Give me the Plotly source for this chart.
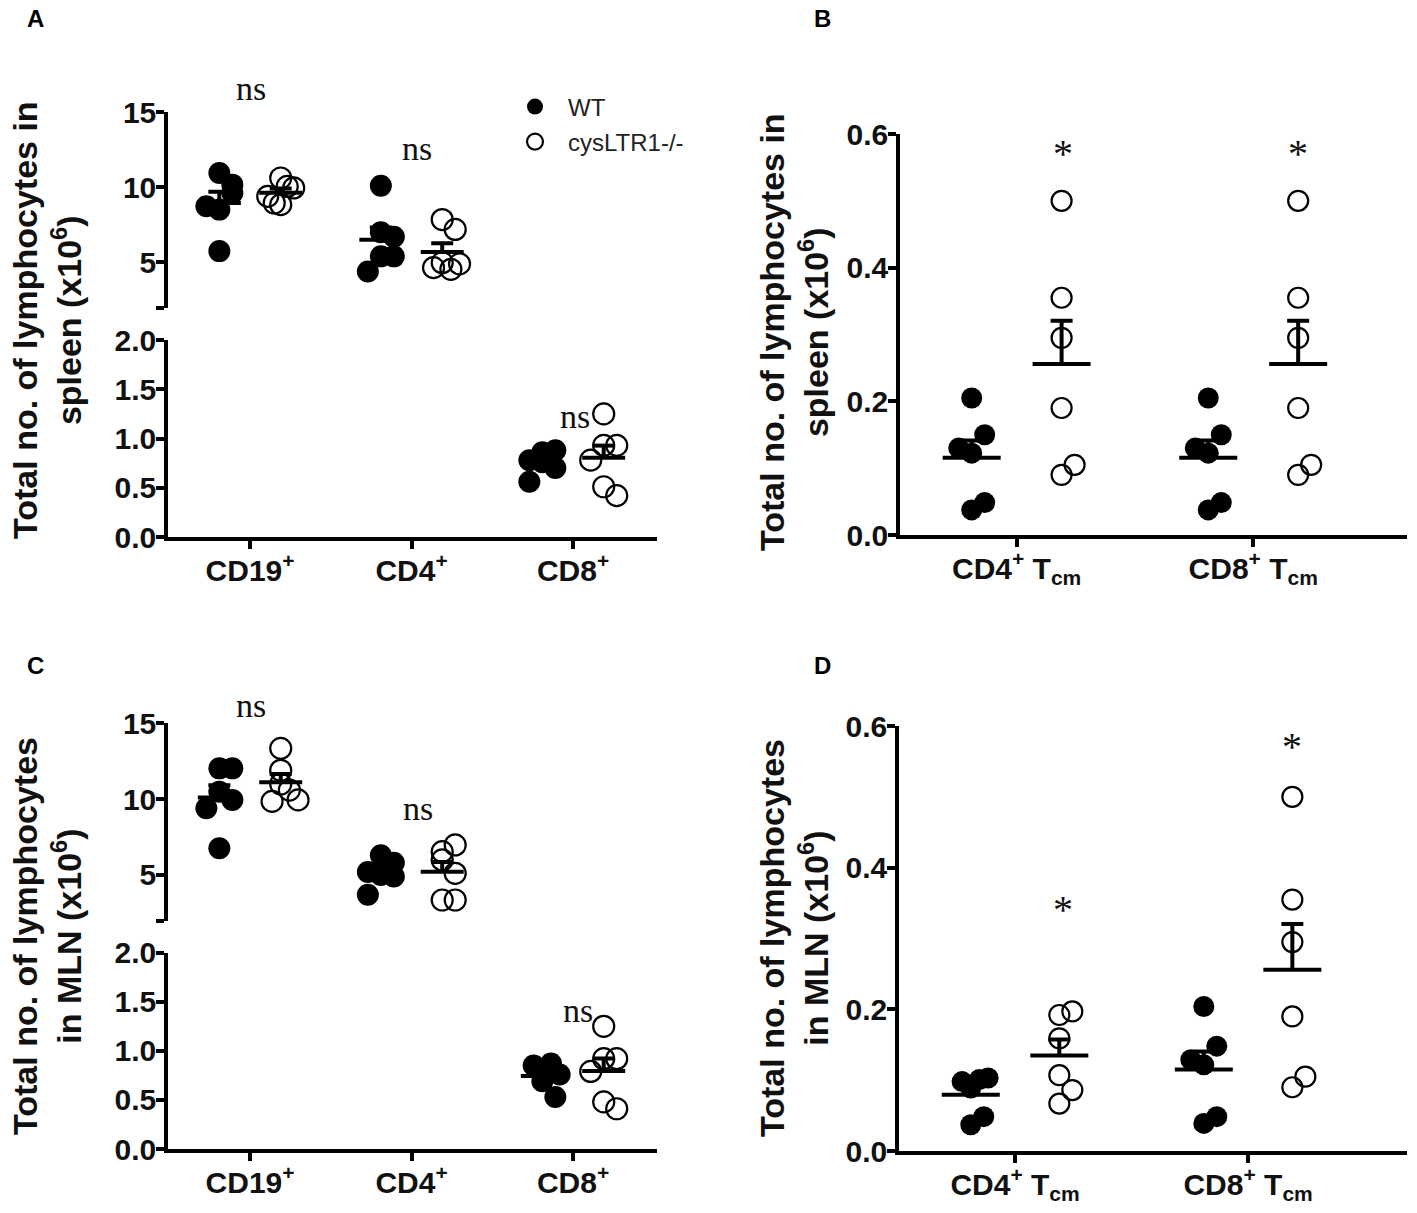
import numpy as np
import plotly.graph_objects as go

W, H = 1417, 1213          # reference picture size
OFF = 8                    # default page body margin
FW, FH = W - 2 * OFF, H - 2 * OFF

# ---------------- data ----------------
cats_main = ["CD19<sup>+</sup>", "CD4<sup>+</sup>", "CD8<sup>+</sup>"]
cats_tcm = ["CD4<sup>+</sup> T<sub>cm</sub>", "CD8<sup>+</sup> T<sub>cm</sub>"]
group_names = ["WT", "cysLTR1-/-"]

# Panel A: spleen (x10^6)
spleen_wt_cd19 = [10.94, 10.17, 8.51, 9.62, 8.73, 5.75]
spleen_ko_cd19 = [10.61, 8.84, 10.05, 8.95, 9.95, 9.39]
spleen_wt_cd4 = [10.1, 7.0, 6.7, 5.4, 5.4, 4.4]
spleen_ko_cd4 = [7.85, 7.19, 4.98, 4.54, 4.65, 4.9]
spleen_wt_cd8 = [0.76, 0.86, 0.88, 0.70, 0.56, 0.78]
spleen_ko_cd8 = [1.25, 0.93, 0.93, 0.78, 0.51, 0.42]

# Panel B: spleen Tcm (x10^6)
spleen_wt_cd4tcm = [0.205, 0.1225, 0.15, 0.13, 0.0375, 0.0485]
spleen_ko_cd4tcm = [0.5, 0.355, 0.295, 0.19, 0.09, 0.105]
spleen_wt_cd8tcm = [0.205, 0.1225, 0.15, 0.13, 0.0375, 0.0485]
spleen_ko_cd8tcm = [0.5, 0.355, 0.295, 0.19, 0.09, 0.105]

# Panel C: MLN (x10^6)
mln_wt_cd19 = [12.03, 12.03, 10.49, 9.95, 9.40, 6.76]
mln_ko_cd19 = [13.35, 11.9, 11.0, 10.6, 9.85, 9.95]
mln_wt_cd4 = [6.3, 5.8, 5.0, 4.9, 3.7, 5.2]
mln_ko_cd4 = [6.54, 6.98, 5.99, 5.11, 3.35, 3.35]
mln_wt_cd8 = [0.77, 0.87, 0.85, 0.69, 0.53, 0.76]
mln_ko_cd8 = [1.25, 0.92, 0.92, 0.79, 0.48, 0.41]

# Panel D: MLN Tcm (x10^6)
mln_wt_cd4tcm = [0.089, 0.101, 0.098, 0.103, 0.037, 0.0485]
mln_ko_cd4tcm = [0.067, 0.086, 0.107, 0.159, 0.192, 0.197]
mln_wt_cd8tcm = [0.204, 0.1216, 0.148, 0.129, 0.039, 0.0485]
mln_ko_cd8tcm = [0.5, 0.355, 0.295, 0.19, 0.09, 0.105]

# significance labels
sig_A = ["ns", "ns", "ns"]
sig_B = ["*", "*"]
sig_C = ["ns", "ns", "ns"]
sig_D = ["*", "*"]


# ---------------- layout helpers ----------------
def fx(px):
    return (px - OFF) / FW


def fy(py):
    return 1 - (py - OFF) / FH


FONT = "Liberation Sans, Arial, sans-serif"
SERIF = "Liberation Serif, Times New Roman, serif"

fig = go.Figure()

# name: (x_left_px, x_right_px, xrange, anchor, categories)
XAX = {
    "x": (168, 657, [-0.508, 2.52], "y", cats_main),
    "x2": (900, 1407, [-0.493, 1.650], "y3", cats_tcm),
    "x3": (168, 657, [-0.508, 2.52], "y4", cats_main),
    "x4": (899, 1407, [-0.498, 1.682], "y6", cats_tcm),
}
# name: (bottom_px, top_px, range, tickvals, ticktext)
YAX = {
    "y": (537, 340, [0, 2], [0, 0.5, 1, 1.5, 2], ["0.0", "0.5", "1.0", "1.5", "2.0"]),
    "y2": (307.5, 112, [2, 15], [2, 5, 10, 15], ["", "5", "10", "15"]),
    "y3": (535, 134, [0, 0.6], [0, 0.2, 0.4, 0.6], ["0.0", "0.2", "0.4", "0.6"]),
    "y4": (1149, 952.7, [0, 2], [0, 0.5, 1, 1.5, 2], ["0.0", "0.5", "1.0", "1.5", "2.0"]),
    "y5": (920.5, 723.3, [2, 15], [2, 5, 10, 15], ["", "5", "10", "15"]),
    "y6": (1151, 726, [0, 0.6], [0, 0.2, 0.4, 0.6], ["0.0", "0.2", "0.4", "0.6"]),
}


def px_per_cat(xname):
    l, r, rng, _, _ = XAX[xname]
    return (r - l) / (rng[1] - rng[0])


def px_per_unit(yname):
    b, t, rng, _, _ = YAX[yname]
    return (b - t) / (rng[1] - rng[0])


def swarm_offsets(values, ppu, diam, step):
    """Simple beeswarm: group values into rows of ~one marker height,
    spread the points of a row sideways (centre, right, left, ...)."""
    vals = np.asarray(values, dtype=float)
    order = np.argsort(vals, kind="stable")
    bins, cur, start = [], [order[0]], vals[order[0]]
    for i in order[1:]:
        if (vals[i] - start) * ppu < 0.9 * diam:
            cur.append(i)
        else:
            bins.append(cur)
            cur, start = [i], vals[i]
    bins.append(cur)
    seq = [0, 1, -1, 2, -2, 3, -3, 4, -4]
    offs = np.zeros(len(vals))
    for b in bins:
        n = len(b)
        st = step * (1.0 if n <= 3 else 2.0 / (n - 1))
        for k, i in enumerate(sorted(b)):
            offs[i] = seq[k] * st
    return offs


GROUP_OFF = 0.19
legend_done = {0: False, 1: False}


def add_group(values, cat_idx, g, xname, yname, diam, mean_half_px, cap_half_px):
    ppc = px_per_cat(xname)
    ppu = px_per_unit(yname)
    center = cat_idx + (GROUP_OFF if g == 1 else -GROUP_OFF)
    offs = swarm_offsets(values, ppu, diam, 13.0) / ppc
    xs = center + offs
    show = False
    leg = "legend" if g == 0 else "legend2"
    if xname == "x" and not legend_done[g]:
        show = True
        legend_done[g] = True
    if g == 0:
        marker = dict(symbol="circle", size=diam, color="black",
                      line=dict(width=0, color="black"))
    else:
        marker = dict(symbol="circle-open", size=diam - 1, color="black",
                      line=dict(width=2.2, color="black"))
    fig.add_trace(go.Scatter(
        x=xs, y=values, mode="markers", marker=marker,
        xaxis=xname, yaxis=yname, name=group_names[g],
        showlegend=show, legend=leg, hoverinfo="y", cliponaxis=False,
    ))
    m = float(np.mean(values))
    s = float(np.std(values, ddof=1) / np.sqrt(len(values)))
    hw = mean_half_px / ppc
    cw = cap_half_px / ppc
    fig.add_trace(go.Scatter(
        x=[center - hw, center + hw, None, center, center, None, center - cw, center + cw],
        y=[m, m, None, m, m + s, None, m + s, m + s],
        mode="lines", line=dict(color="black", width=4),
        xaxis=xname, yaxis=yname, showlegend=False, hoverinfo="skip",
        cliponaxis=False,
    ))


A_sets = [(spleen_wt_cd19, spleen_ko_cd19), (spleen_wt_cd4, spleen_ko_cd4),
          (spleen_wt_cd8, spleen_ko_cd8)]
C_sets = [(mln_wt_cd19, mln_ko_cd19), (mln_wt_cd4, mln_ko_cd4),
          (mln_wt_cd8, mln_ko_cd8)]
for sets, xname, ylow, yup in [(A_sets, "x", "y", "y2"), (C_sets, "x3", "y4", "y5")]:
    for ci, pair in enumerate(sets):
        for g, vals in enumerate(pair):
            yname = ylow if max(max(pair[0]), max(pair[1])) < 2 else yup
            add_group(vals, ci, g, xname, yname, 22, 21.5, 11)

B_sets = [(spleen_wt_cd4tcm, spleen_ko_cd4tcm), (spleen_wt_cd8tcm, spleen_ko_cd8tcm)]
D_sets = [(mln_wt_cd4tcm, mln_ko_cd4tcm), (mln_wt_cd8tcm, mln_ko_cd8tcm)]
for sets, xname, yname in [(B_sets, "x2", "y3"), (D_sets, "x4", "y6")]:
    for ci, pair in enumerate(sets):
        for g, vals in enumerate(pair):
            add_group(vals, ci, g, xname, yname, 21, 29, 11)

# ---------------- axes ----------------
axis_common = dict(showgrid=False, zeroline=False, showline=True, linecolor="black",
                   linewidth=3.5, ticks="outside", ticklen=8, tickwidth=3.5,
                   tickcolor="black", automargin=False,
                   tickfont=dict(family=FONT, size=30, color="#111", weight="bold"))
layout_axes = {}
for name, (l, r, rng, anchor, cats) in XAX.items():
    key = "xaxis" if name == "x" else "xaxis" + name[1:]
    layout_axes[key] = dict(axis_common, domain=[fx(l), fx(r)], range=rng,
                            anchor=anchor, tickmode="array",
                            tickvals=list(range(len(cats))), ticktext=cats,
                            ticklabelstandoff=-4)
y_anchor = {"y": "x", "y2": "x", "y3": "x2", "y4": "x3", "y5": "x3", "y6": "x4"}
for name, (b, t, rng, tv, tt) in YAX.items():
    key = "yaxis" if name == "y" else "yaxis" + name[1:]
    layout_axes[key] = dict(axis_common, domain=[fy(b), fy(t)], range=rng,
                            anchor=y_anchor[name], tickmode="array",
                            tickvals=tv, ticktext=tt, ticklabelstandoff=-6)

# ---------------- annotations ----------------
ann = []
title_font = dict(family=FONT, size=34, color="#111", weight="bold")
for (cx, cy, txt) in [
    (47, 320, "Total no. of lymphocytes in<br>spleen (x10<sup>6</sup>)"),
    (794, 332, "Total no. of lymphocytes in<br>spleen (x10<sup>6</sup>)"),
    (47, 936, "Total no. of lymphocytes<br>in MLN (x10<sup>6</sup>)"),
    (794, 938, "Total no. of lymphocytes<br>in MLN (x10<sup>6</sup>)"),
]:
    ann.append(dict(x=fx(cx), y=fy(cy), xref="paper", yref="paper", text=txt,
                    textangle=-90, showarrow=False, font=title_font,
                    xanchor="center", yanchor="middle", align="center"))

for (cx, cy, txt) in [(35, 19, "A"), (822, 19, "B"), (35, 665, "C"), (822, 665, "D")]:
    ann.append(dict(x=fx(cx), y=fy(cy), xref="paper", yref="paper", text=txt,
                    showarrow=False, font=dict(family=FONT, size=24, color="black",
                                               weight="bold"),
                    xanchor="center", yanchor="middle"))

ns_font = dict(family=SERIF, size=34, color="#111")
star_font = dict(family=SERIF, size=40, color="#111")
# significance label placement (pixel centre of the text)
for (cx, cy, txt, f, dy) in [
    (251, 88, sig_A[0], ns_font, 0),
    (417, 148, sig_A[1], ns_font, 0),
    (575, 416, sig_A[2], ns_font, 0),
    (251, 705, sig_C[0], ns_font, 0),
    (418, 808, sig_C[1], ns_font, 0),
    (578, 1010, sig_C[2], ns_font, 0),
    (1063, 147, sig_B[0], star_font, 6),
    (1298, 147, sig_B[1], star_font, 6),
    (1063, 903, sig_D[0], star_font, 6),
    (1292, 740, sig_D[1], star_font, 6),
]:
    ann.append(dict(x=fx(cx), y=fy(cy + dy), xref="paper", yref="paper", text=txt,
                    showarrow=False, font=f, xanchor="center", yanchor="middle"))

leg_font = dict(family=FONT, size=24, color="#222")
fig.update_layout(
    template="none",
    width=FW, height=FH, margin=dict(l=0, r=0, t=0, b=0, pad=0),
    paper_bgcolor="white", plot_bgcolor="white",
    annotations=ann,
    legend=dict(x=fx(502), y=fy(107), xanchor="left", yanchor="middle",
                font=leg_font, bgcolor="rgba(0,0,0,0)", itemsizing="trace",
                itemwidth=56, borderwidth=0),
    legend2=dict(x=fx(502), y=fy(142), xanchor="left", yanchor="middle",
                 font=leg_font, bgcolor="rgba(0,0,0,0)", itemsizing="trace",
                 itemwidth=56, borderwidth=0),
    **layout_axes,
)

fig.write_html("out.html")
